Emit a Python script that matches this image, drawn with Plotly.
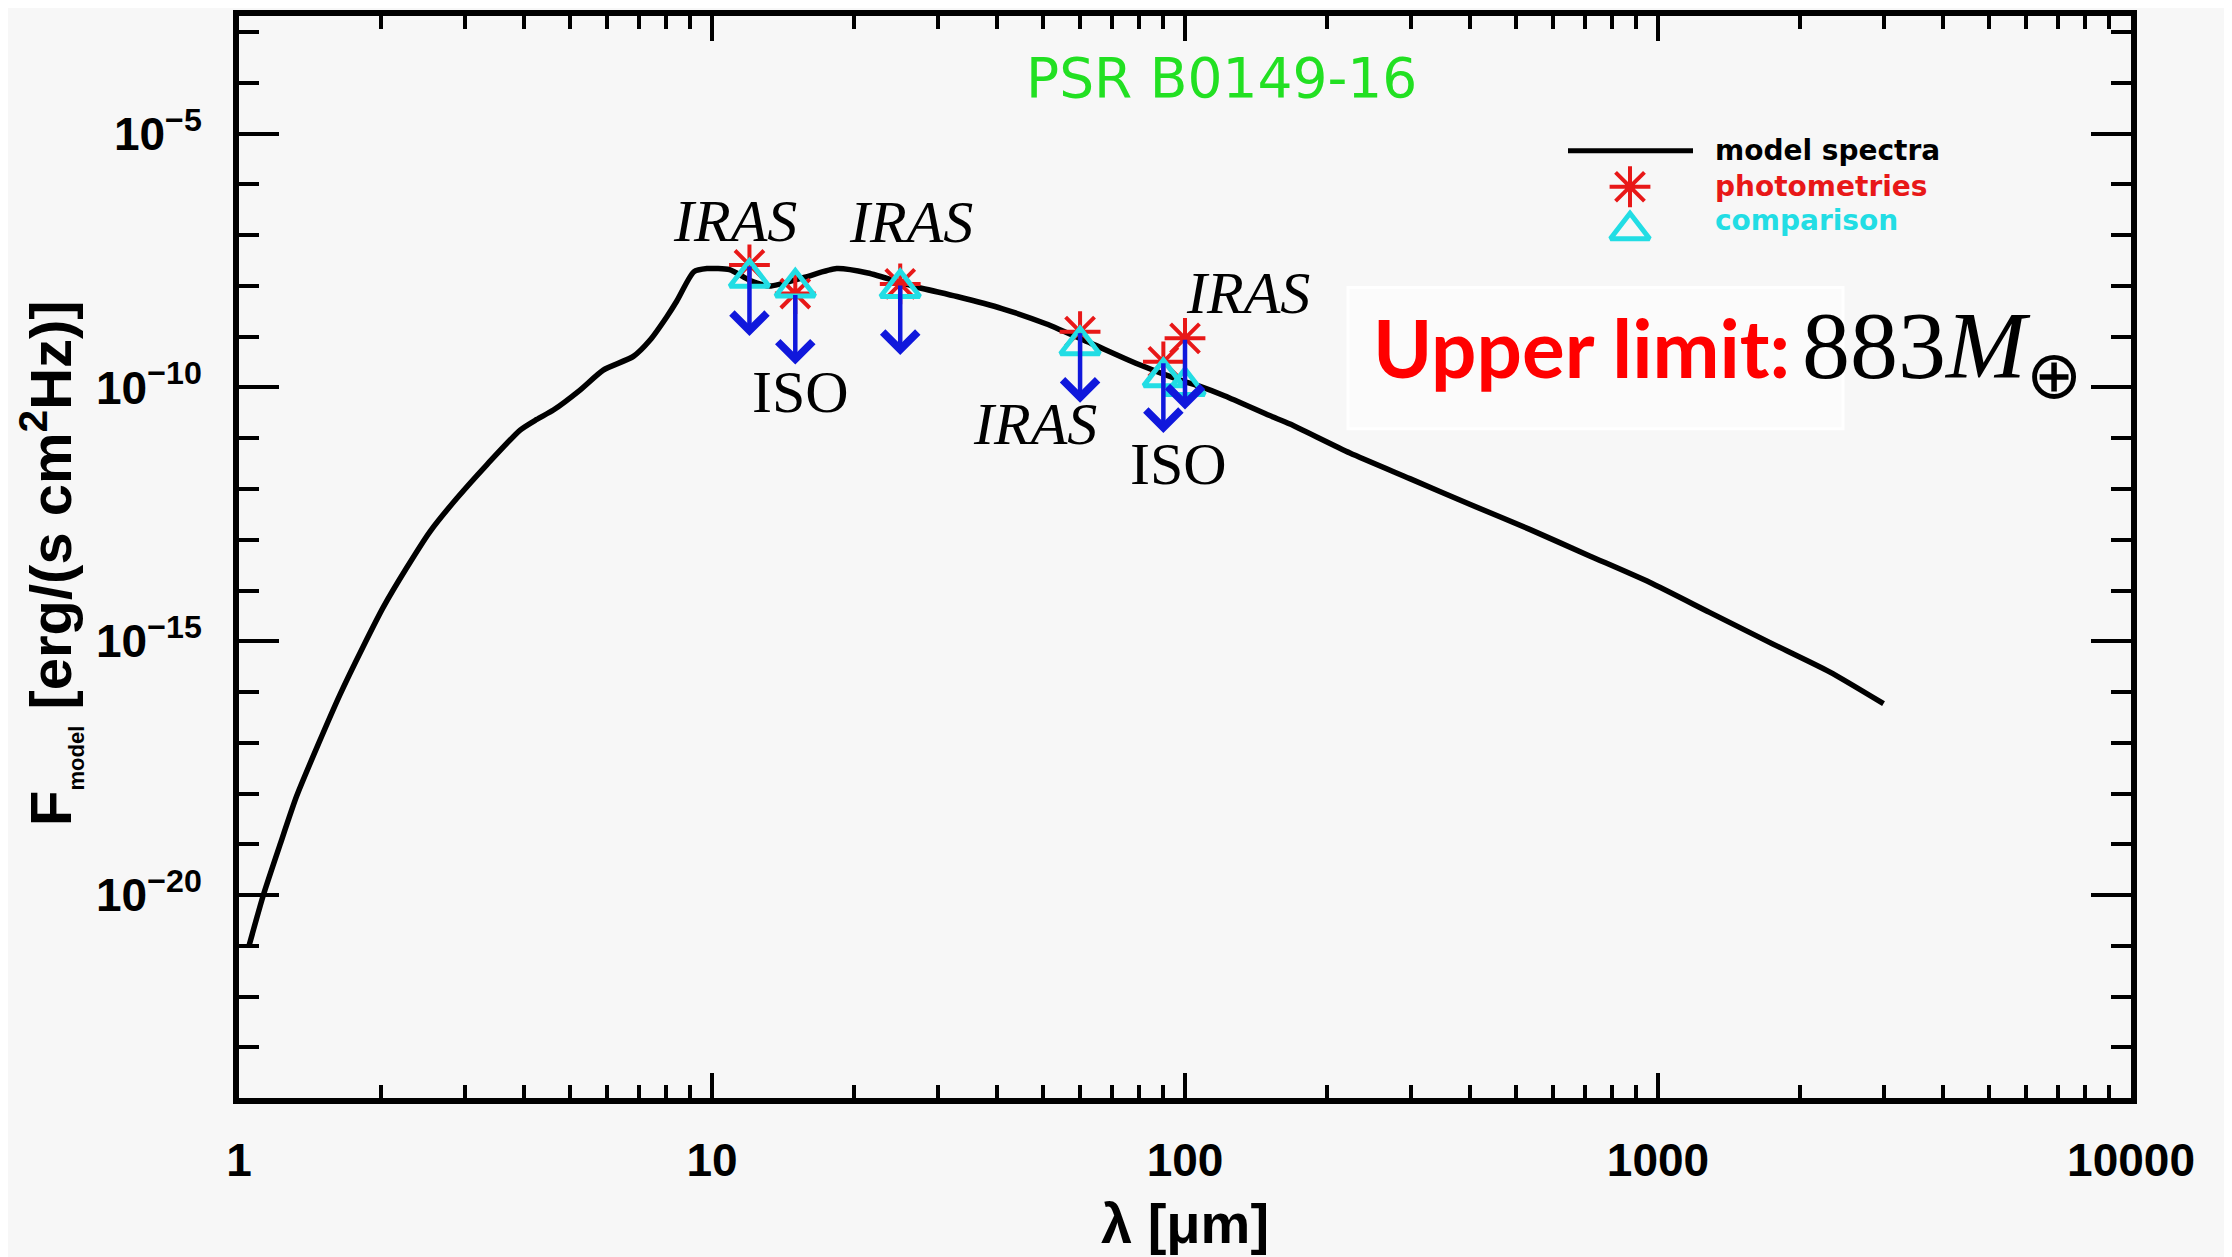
import numpy as np
import plotly.graph_objects as go

# ---------------- data ----------------
model_wavelength_um = [1.05, 1.126, 1.221, 1.324, 1.472, 1.635, 1.831, 2.019, 2.262, 2.534,
                       2.885, 3.341, 3.93, 4.26, 4.62, 5.26, 5.89, 6.82, 7.39, 8.02, 8.42,
                       9.15, 9.76, 10.89, 12.0, 13.24, 15.73, 18.34, 21.36, 26.54, 32.96,
                       41.0, 50.8, 63.3, 78.7, 97.6, 107.6, 121.5, 151.0, 166.7, 223.2,
                       298.8, 400.0, 535.6, 717.0, 959.8, 1285.0, 1721.0, 2305.0, 2998.0]
model_flux = [1.0e-21, 1.0e-20, 9.8e-20, 8.9e-19, 9.5e-18, 8.9e-17, 7.9e-16, 4.7e-15, 2.8e-14, 1.45e-13,
              6.5e-13, 3.0e-12, 1.45e-11, 2.35e-11, 3.6e-11, 8.9e-11, 2.2e-10, 4.1e-10, 8.5e-10, 2.45e-9, 5.0e-9,
              1.9e-8, 2.2e-8, 2.1e-8, 1.3e-8, 1.0e-8, 1.5e-8, 2.2e-8, 1.8e-8, 1.0e-8, 6.2e-9,
              3.6e-9, 1.8e-9, 7.4e-10, 3.0e-10, 1.4e-10, 1.05e-10, 6.8e-11, 2.8e-11, 1.9e-11, 5.1e-12,
              1.6e-12, 5.0e-13, 1.6e-13, 4.8e-14, 1.45e-14, 3.7e-15, 9.5e-16, 2.5e-16, 5.9e-17]

phot_wavelength_um = [12, 15, 25, 60, 90, 100]
phot_flux = [2.6e-8, 7.1e-9, 1.1e-8, 1.26e-9, 3.2e-10, 9.3e-10]
comp_flux = [1.45e-8, 9.3e-9, 9.1e-9, 6.8e-10, 1.6e-10, 1.07e-10]
instrument = ["IRAS", "ISO", "IRAS", "IRAS", "ISO", "IRAS"]

x_tick_vals = [1, 10, 100, 1000, 10000]
x_tick_text = ["1", "10", "100", "1000", "10000"]
y_tick_exp = [-5, -10, -15, -20]

title_text = "PSR B0149-16"
legend_labels = ["model spectra", "photometries", "comparison"]
upper_limit_label = "Upper limit:"
upper_limit_value = "883<i>M</i><sub>⊕</sub>"

# ---------------- styles / layout constants ----------------
OFF = 8  # page body margin
W, H = 2224, 1249
ML, MT = 231, 2
PW, PH = 1892, 1088
MR, MB = W - ML - PW, H - MT - PH
BG = "#f7f7f7"
RED = "#e81818"
CYAN = "#22dde4"
BLUE = "#1018dc"
GREEN = "#22e022"
ARROW_DEC = 1.4  # arrow length in decades


def px(x):  # screenshot pixel -> paper fraction
    return (x - OFF - ML) / PW


def py(y):
    return (MT + PH - (y - OFF)) / PH


# label offsets (pixels) relative to each photometry point
label_dx = [-14, 5, 11, -45, 15, 63]
label_dy = [44, -98, 62, -92, -102, 45]

fig = go.Figure()

fig.add_trace(go.Scatter(x=model_wavelength_um, y=model_flux, mode="lines",
                         line=dict(color="black", width=5.5, shape="spline", smoothing=0.6),
                         showlegend=False, hoverinfo="skip"))
fig.add_trace(go.Scatter(x=phot_wavelength_um, y=phot_flux, mode="markers",
                         marker=dict(symbol="asterisk-open", size=34, color=RED,
                                     line=dict(color=RED, width=4)),
                         showlegend=False))
fig.add_trace(go.Scatter(x=phot_wavelength_um, y=comp_flux, mode="markers",
                         marker=dict(symbol="triangle-up-open", size=34, color=CYAN,
                                     line=dict(color=CYAN, width=5)),
                         showlegend=False))

# legend symbols on an invisible overlay axis (paper-like coordinates)
fig.add_trace(go.Scatter(x=[px(1630)], y=[py(181.7)], mode="markers", xaxis="x2", yaxis="y2",
                         marker=dict(symbol="asterisk-open", size=34, color=RED,
                                     line=dict(color=RED, width=4)), showlegend=False))
fig.add_trace(go.Scatter(x=[px(1630)], y=[py(225.5)], mode="markers", xaxis="x2", yaxis="y2",
                         marker=dict(symbol="triangle-up-open", size=34, color=CYAN,
                                     line=dict(color=CYAN, width=5)), showlegend=False))

annotations = []
# upper-limit arrows
for lam, f in zip(phot_wavelength_um, phot_flux):
    lx, lf = np.log10(lam), np.log10(f)
    annotations.append(dict(x=lx, y=lf - ARROW_DEC, ax=lx, ay=lf, xref="x", yref="y",
                            axref="x", ayref="y", text="", showarrow=True, arrowhead=4,
                            arrowsize=1.5, arrowwidth=4.5, arrowcolor=BLUE))
# instrument labels
for lam, f, name, dx, dy in zip(phot_wavelength_um, phot_flux, instrument, label_dx, label_dy):
    txt = "<i>%s</i>" % name if name == "IRAS" else name
    annotations.append(dict(x=np.log10(lam), y=np.log10(f), xref="x", yref="y", text=txt,
                            showarrow=False, xshift=dx, yshift=dy, xanchor="center",
                            yanchor="middle",
                            font=dict(family="Liberation Serif", size=60, color="black")))
# title
annotations.append(dict(x=px(1221), y=py(72), xref="paper", yref="paper", text=title_text,
                        showarrow=False, xanchor="center", yanchor="middle",
                        font=dict(family="DejaVu Sans", size=55, color=GREEN)))
# legend texts
leg_cols = ["black", RED, CYAN]
leg_y = [145, 181, 216]
for lab, c, yy in zip(legend_labels, leg_cols, leg_y):
    annotations.append(dict(x=px(1713), y=py(yy), xref="paper", yref="paper", text=lab,
                            showarrow=False, xanchor="left", yanchor="middle",
                            font=dict(family="DejaVu Sans", size=28, color=c, weight="bold")))
# upper limit
annotations.append(dict(x=px(1792), y=py(343), xref="paper", yref="paper", text=upper_limit_label,
                        showarrow=False, xanchor="right", yanchor="middle",
                        font=dict(family="Lato", size=80, color="#ff0000", weight="bold")))
annotations.append(dict(x=px(1800), y=py(348), xref="paper", yref="paper", text=upper_limit_value,
                        showarrow=False, xanchor="left", yanchor="middle",
                        font=dict(family="Liberation Serif", size=96, color="black")))
# axis titles
annotations.append(dict(x=px(50), y=py(560), xref="paper", yref="paper", textangle=-90,
                        text="F<sub><span style='font-size:22px'>model</span></sub> [erg/(s cm<sup>2</sup>Hz)]",
                        showarrow=False, xanchor="center", yanchor="middle",
                        font=dict(family="Liberation Sans", size=58, color="black", weight="bold")))
annotations.append(dict(x=0.5, y=py(1224), xref="paper", yref="paper", text="λ [μm]",
                        showarrow=False, xanchor="center", yanchor="middle",
                        font=dict(family="Liberation Sans", size=56, color="black", weight="bold")))

shapes = [
    dict(type="line", xref="paper", yref="paper", x0=px(1568), x1=px(1693),
         y0=py(145.5), y1=py(145.5), line=dict(color="black", width=5)),
    dict(type="rect", xref="paper", yref="paper", x0=px(1348), x1=px(1843),
         y0=py(425), y1=py(283), fillcolor="#fbfbfb", line=dict(color="#ffffff", width=3),
         layer="below"),
]

x_minor = [m * 10 ** d for d in range(0, 4) for m in range(2, 10)]
y_minor = [10.0 ** e for e in range(-23, -2) if e % 5 != 0]

tickfont = dict(family="Liberation Sans", size=46, color="black", weight="bold")
fig.update_layout(
    width=W, height=H, margin=dict(l=ML, r=MR, t=MT, b=MB),
    paper_bgcolor=BG, plot_bgcolor=BG, showlegend=False,
    annotations=annotations, shapes=shapes,
    xaxis=dict(type="log", range=[0, 4], tickmode="array", tickvals=x_tick_vals,
               ticktext=x_tick_text, ticks="inside", ticklen=25, tickwidth=4,
               tickcolor="black", showline=True, linewidth=6, linecolor="black",
               mirror="ticks", showgrid=False, zeroline=False, tickfont=tickfont,
               ticklabelstandoff=17,
               minor=dict(tickmode="array", tickvals=x_minor, ticks="inside", ticklen=13,
                          tickwidth=4, tickcolor="black", showgrid=False)),
    yaxis=dict(type="log", range=[-24, -2.68], tickmode="array",
               tickvals=[10.0 ** e for e in y_tick_exp],
               ticktext=["10<sup>−%d</sup>" % (-e) for e in y_tick_exp],
               ticks="inside", ticklen=40, tickwidth=4, tickcolor="black",
               showline=True, linewidth=6, linecolor="black", mirror="ticks",
               showgrid=False, zeroline=False, tickfont=tickfont, ticklabelstandoff=22,
               minor=dict(tickmode="array", tickvals=y_minor, ticks="inside", ticklen=20,
                          tickwidth=4, tickcolor="black", showgrid=False)),
    xaxis2=dict(overlaying="x", range=[0, 1], visible=False),
    yaxis2=dict(overlaying="y", range=[0, 1], visible=False),
)

fig.write_html("out.html")
